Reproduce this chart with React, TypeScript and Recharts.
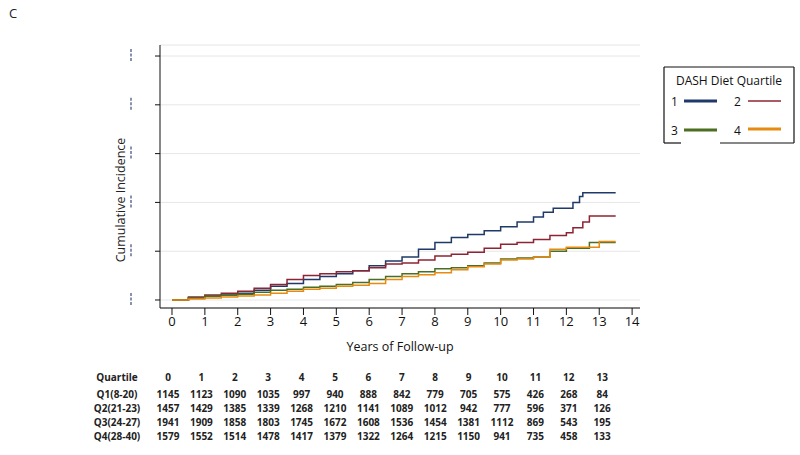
import { LineChart, Line, XAxis, YAxis, CartesianGrid } from "recharts";

// Kumulative Inzidenz nach DASH-Quartil (Schritte je halbes Jahr)
const q1Years = [0, 0.5, 1, 1.5, 2, 2.5, 3, 3.5, 4, 4.5, 5, 5.5, 6, 6.5, 7, 7.5, 8, 8.5, 9, 9.5, 10, 10.5, 11, 11.3, 11.6, 12, 12.2, 12.4, 12.5, 13.5];
const q1Inc = [0, 0.002, 0.004, 0.005, 0.007, 0.01, 0.014, 0.017, 0.021, 0.024, 0.027, 0.03, 0.035, 0.04, 0.044, 0.052, 0.059, 0.064, 0.067, 0.071, 0.075, 0.08, 0.085, 0.09, 0.094, 0.094, 0.1, 0.106, 0.11, 0.11];

const q2Years = [0, 0.5, 1, 1.5, 2, 2.5, 3, 3.5, 4, 4.5, 5, 5.5, 6, 6.5, 7, 7.5, 8, 8.5, 9, 9.5, 10, 10.5, 11, 11.5, 12, 12.2, 12.5, 12.7, 13.5];
const q2Inc = [0, 0.003, 0.005, 0.007, 0.009, 0.012, 0.016, 0.021, 0.025, 0.027, 0.029, 0.03, 0.033, 0.037, 0.038, 0.041, 0.045, 0.047, 0.049, 0.053, 0.057, 0.059, 0.062, 0.066, 0.069, 0.074, 0.08, 0.086, 0.086];

const q3Years = [0, 0.5, 1, 1.5, 2, 2.5, 3, 3.5, 4, 4.5, 5, 5.5, 6, 6.5, 7, 7.5, 8, 8.5, 9, 9.5, 10, 10.5, 11, 11.5, 12, 12.7, 13.5];
const q3Inc = [0, 0.002, 0.004, 0.005, 0.006, 0.008, 0.01, 0.011, 0.013, 0.014, 0.016, 0.018, 0.021, 0.024, 0.027, 0.029, 0.032, 0.033, 0.035, 0.038, 0.042, 0.043, 0.044, 0.05, 0.053, 0.059, 0.059];

const q4Years = [0, 0.5, 1, 1.5, 2, 2.5, 3, 3.5, 4, 4.5, 5, 5.5, 6, 6.5, 7, 7.5, 8, 8.5, 9, 9.5, 10, 10.5, 11, 11.5, 12, 13, 13.5];
const q4Inc = [0, 0.001, 0.002, 0.003, 0.004, 0.005, 0.007, 0.009, 0.011, 0.012, 0.014, 0.015, 0.017, 0.021, 0.024, 0.026, 0.028, 0.031, 0.034, 0.037, 0.041, 0.042, 0.044, 0.052, 0.054, 0.06, 0.06];

const xTicks = [0, 1, 2, 3, 4, 5, 6, 7, 8, 9, 10, 11, 12, 13, 14];
const yTicks = [0, 0.05, 0.1, 0.15, 0.2, 0.25];

// Number at risk
const riskYears = [0, 1, 2, 3, 4, 5, 6, 7, 8, 9, 10, 11, 12, 13];
const riskLabels = ["Q1(8-20)", "Q2(21-23)", "Q3(24-27)", "Q4(28-40)"];
const riskQ1 = [1145, 1123, 1090, 1035, 997, 940, 888, 842, 779, 705, 575, 426, 268, 84];
const riskQ2 = [1457, 1429, 1385, 1339, 1268, 1210, 1141, 1089, 1012, 942, 777, 596, 371, 126];
const riskQ3 = [1941, 1909, 1858, 1803, 1745, 1672, 1608, 1536, 1454, 1381, 1112, 869, 543, 195];
const riskQ4 = [1579, 1552, 1514, 1478, 1417, 1379, 1322, 1264, 1215, 1150, 941, 735, 458, 133];
const riskRows = [riskQ1, riskQ2, riskQ3, riskQ4];

const COLORS = { q1: "#1f3a68", q2: "#8c2433", q3: "#4b6e23", q4: "#e68a10" };
const FONT = "'Open Sans', 'Noto Sans', sans-serif";

const toPts = (xs: number[], ys: number[]) => xs.map((t, i) => ({ t, v: ys[i] }));

const series = [
  { key: "1", data: toPts(q1Years, q1Inc), color: COLORS.q1 },
  { key: "2", data: toPts(q2Years, q2Inc), color: COLORS.q2 },
  { key: "3", data: toPts(q3Years, q3Inc), color: COLORS.q3 },
  { key: "4", data: toPts(q4Years, q4Inc), color: COLORS.q4 },
];

// y-Labels sind im Original unleserlich (nur verwischte Striche)
const SmudgeTick: React.FC<any> = ({ y }) => (
  <line x1={131} x2={131} y1={y - 7} y2={y + 6} stroke="#3a4a78" strokeWidth={1.4} strokeDasharray="3 1.5" opacity={0.85} />
);

const YTitle: React.FC<any> = () => (
  <text x={0} y={0} transform="translate(125, 200) rotate(-90)" textAnchor="middle" fontSize={12.5} fill="#222" fontFamily={FONT}>
    Cumulative Incidence
  </text>
);

const LegendBox = () => (
  <svg width={132} height={80} style={{ display: "block" }}>
    <line x1={1} y1={1} x2={131} y2={1} stroke="#111" strokeWidth={1.2} />
    <line x1={1} y1={1} x2={1} y2={77} stroke="#111" strokeWidth={1.2} />
    <line x1={131} y1={1} x2={131} y2={77} stroke="#111" strokeWidth={1.2} />
    <line x1={1} y1={77} x2={18} y2={77} stroke="#111" strokeWidth={1.2} />
    <line x1={57} y1={77} x2={131} y2={77} stroke="#111" strokeWidth={1.2} />
    <text x={66} y={19} textAnchor="middle" fontSize={12} fill="#111" fontFamily={FONT}>DASH Diet Quartile</text>
    <text x={8} y={40} fontSize={12} fill="#111" fontFamily={FONT}>1</text>
    <line x1={21} x2={54} y1={35} y2={35} stroke={COLORS.q1} strokeWidth={3} />
    <text x={71} y={40} fontSize={12} fill="#111" fontFamily={FONT}>2</text>
    <line x1={85} x2={118} y1={35} y2={35} stroke={COLORS.q2} strokeWidth={1.6} />
    <text x={8} y={69} fontSize={12} fill="#111" fontFamily={FONT}>3</text>
    <line x1={21} x2={54} y1={64} y2={64} stroke={COLORS.q3} strokeWidth={3} />
    <text x={71} y={69} fontSize={12} fill="#111" fontFamily={FONT}>4</text>
    <line x1={85} x2={118} y1={63} y2={63} stroke={COLORS.q4} strokeWidth={3} />
  </svg>
);

const colX = (i: number) => 168 + i * 33.4;

export default function App() {
  return (
    <div style={{ position: "fixed", left: 0, top: 0, width: 800, height: 455, background: "#fff", fontFamily: FONT }}>
      <div style={{ position: "absolute", left: 9, top: 4, fontSize: 13, color: "#222" }}>C</div>

      <div style={{ position: "absolute", left: 0, top: 0 }}>
        <LineChart width={800} height={365} margin={{ top: 45, right: 160, left: 100, bottom: 27 }}>
          <CartesianGrid horizontal vertical={false} stroke="#e6e6e6" strokeWidth={1} />
          <XAxis
            type="number"
            dataKey="t"
            domain={[-0.365, 14.24]}
            ticks={xTicks}
            allowDataOverflow
            height={30}
            tickSize={7}
            stroke="#111"
            tick={{ fontSize: 13, fill: "#111", fontFamily: FONT }}
            label={{ value: "Years of Follow-up", position: "insideBottom", offset: -13, style: { fontSize: 12.5, fill: "#111", fontFamily: FONT } }}
          />
          <YAxis
            type="number"
            dataKey="v"
            domain={[-0.0082, 0.2613]}
            ticks={yTicks}
            allowDataOverflow
            width={60}
            tickSize={5}
            stroke="#111"
            tick={<SmudgeTick />}
            label={<YTitle />}
          />
          {series.map((s) => (
            <Line
              key={s.key}
              data={s.data}
              dataKey="v"
              name={s.key}
              type="stepAfter"
              stroke={s.color}
              strokeWidth={1.5}
              dot={false}
              isAnimationActive={false}
            />
          ))}
        </LineChart>
      </div>

      <div style={{ position: "absolute", left: 663, top: 66 }}>
        <LegendBox />
      </div>

      {/* Tabelle: Anzahl unter Risiko */}
      <div style={{ position: "absolute", left: 0, top: 370, width: 800, fontSize: 10, fontWeight: 700, color: "#222" }}>
        <div style={{ position: "absolute", left: 96, top: 0, width: 42, textAlign: "center" }}>Quartile</div>
        {riskYears.map((yr, i) => (
          <div key={"h" + yr} style={{ position: "absolute", left: colX(i) - 20, top: 0, width: 40, textAlign: "center" }}>{yr}</div>
        ))}
        {riskRows.map((row, r) => (
          <div key={riskLabels[r]}>
            <div style={{ position: "absolute", left: 92, top: 17 + r * 14, width: 50, textAlign: "center" }}>{riskLabels[r]}</div>
            {row.map((n, i) => (
              <div key={i} style={{ position: "absolute", left: colX(i) - 20, top: 17 + r * 14, width: 40, textAlign: "center" }}>{n}</div>
            ))}
          </div>
        ))}
      </div>
    </div>
  );
}
